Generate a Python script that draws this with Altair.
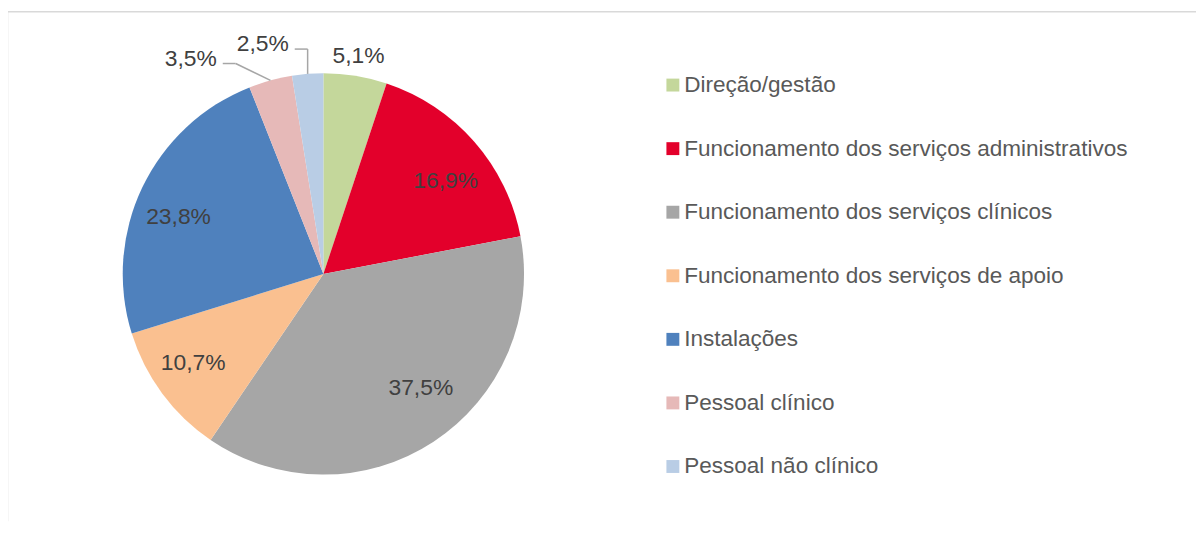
import math
import pandas as pd
import altair as alt

# ---------------- data ----------------
categories = [
    "Direção/gestão",
    "Funcionamento dos serviços administrativos",
    "Funcionamento dos serviços clínicos",
    "Funcionamento dos serviços de apoio",
    "Instalações",
    "Pessoal clínico",
    "Pessoal não clínico",
]
values = [5.1, 16.9, 37.5, 10.7, 23.8, 3.5, 2.5]
colors = ["#C4D79B", "#E3002B", "#A6A6A6", "#FAC090", "#4F81BD", "#E6B9B8", "#B9CDE5"]

# ---------------- layout / style ----------------
OX, OY = 10, 11                      # page position of the view origin
CX, CY = 325.5 - OX, 274 - OY        # pie centre (view coords)
R = 202                              # pie radius
R_IN, R_OUT = 155, 222               # label radii
W, H = 1194, 512
FONT = "Liberation Sans"

inside = {1: (6.5, 9), 2: (13, -14.5), 3: (-6.5, -2.7), 4: (-6, 10)}   # idx -> nudge
outside = {0: (0, 0)}
callout = {5: (-35, -17), 6: (0, -25)}                                  # idx -> elbow offset

total = sum(values)
df = pd.DataFrame({"category": categories, "value": values, "idx": list(range(len(values)))})


def fmt(v):
    return f"{v:.1f}".replace(".", ",") + "%"


mid = []
acc = 0.0
for v in values:
    mid.append((acc + v / 2) / total * 2 * math.pi)
    acc += v


def polar(a, r):
    return CX + r * math.sin(a), CY - r * math.cos(a)


center_rows, right_rows, seg_rows = [], [], []
for i, v in enumerate(values):
    a = mid[i]
    if i in inside:
        x, y = polar(a, R_IN)
        dx, dy = inside[i]
        center_rows.append({"x": x + dx, "y": y + dy, "label": fmt(v)})
    elif i in outside:
        x, y = polar(a, R_OUT)
        dx, dy = outside[i]
        center_rows.append({"x": x + dx, "y": y + dy, "label": fmt(v)})
    else:
        ex, ey = polar(a, R)
        ox, oy = callout[i]
        bx, by = ex + ox, ey + oy
        fx = bx - 13
        seg_rows.append({"x": ex, "y": ey, "x2": bx, "y2": by})
        seg_rows.append({"x": bx, "y": by, "x2": fx, "y2": by})
        right_rows.append({"x": fx - 6, "y": by - 5, "label": fmt(v)})

df_c = pd.DataFrame(center_rows)
df_r = pd.DataFrame(right_rows)
df_s = pd.DataFrame(seg_rows)

pie = alt.Chart(df).mark_arc(outerRadius=R).encode(
    theta=alt.Theta("value:Q", stack=True, scale=alt.Scale(domain=[0, total])),
    order=alt.Order("idx:Q"),
    color=alt.Color(
        "category:N",
        sort=categories,
        scale=alt.Scale(domain=categories, range=colors),
        legend=alt.Legend(
            title=None,
            orient="none",
            legendX=656,
            legendY=61.5,
            direction="vertical",
            symbolType="square",
            symbolSize=169,
            symbolStrokeWidth=0,
            symbolOpacity=1,
            labelFont=FONT,
            labelFontSize=22.7,
            labelColor="#595959",
            labelOffset=0,
            labelLimit=700,
            rowPadding=40,
            padding=0,
        ),
    ),
    x=alt.value(CX),
    y=alt.value(CY),
)

xs = dict(scale=None, axis=None)

lab_c = alt.Chart(df_c).mark_text(
    font=FONT, fontSize=23, color="#404040", align="center", baseline="middle"
).encode(x=alt.X("x:Q", **xs), y=alt.Y("y:Q", **xs), text="label:N")

lab_r = alt.Chart(df_r).mark_text(
    font=FONT, fontSize=23, color="#404040", align="right", baseline="middle"
).encode(x=alt.X("x:Q", **xs), y=alt.Y("y:Q", **xs), text="label:N")

segs = alt.Chart(df_s).mark_rule(color="#A6A6A6", strokeWidth=1.5).encode(
    x=alt.X("x:Q", **xs), y=alt.Y("y:Q", **xs), x2="x2:Q", y2="y2:Q"
)

frame_data = alt.Data(values=[{"k": 0}])
frame_top = alt.Chart(frame_data).mark_rule(color="#D9D9D9", strokeWidth=1.5).encode(
    x=alt.value(-2.5), x2=alt.value(W), y=alt.value(-1)
)
frame_left = alt.Chart(frame_data).mark_rule(color="#D9D9D9", strokeWidth=1.5).encode(
    x=alt.value(-2.5), y=alt.value(-1), y2=alt.value(H)
)

chart = (
    alt.layer(frame_top, frame_left, pie, segs, lab_c, lab_r)
    .properties(
        width=W,
        height=H,
        autosize="none",
        padding={"left": 2, "top": 3, "right": 0, "bottom": 0},
    )
    .configure_view(stroke=None)
    .resolve_scale(color="independent")
)

chart.save("out.html", embed_options={"renderer": "svg", "actions": False})
